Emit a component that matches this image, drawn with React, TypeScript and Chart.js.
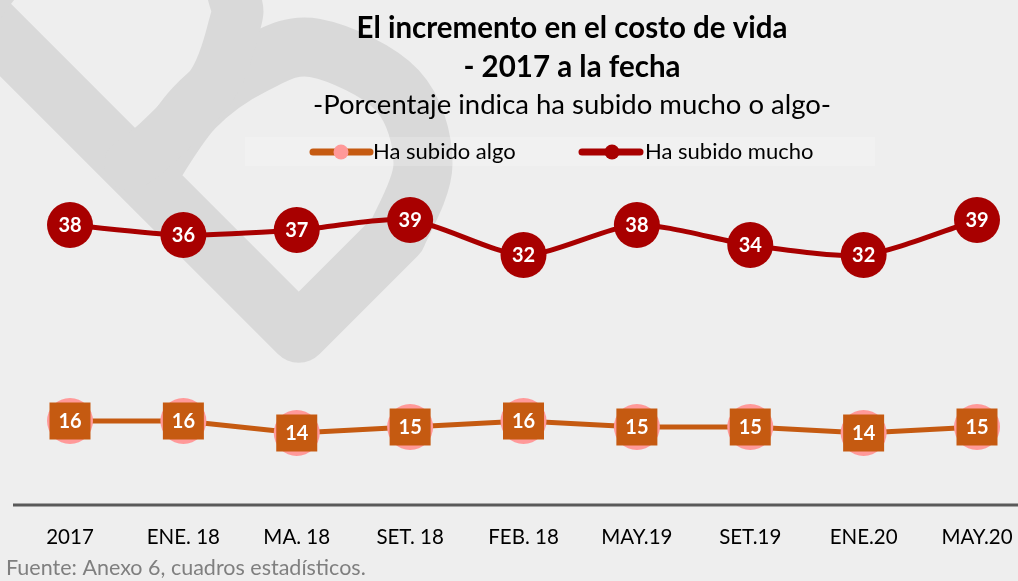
import React, { useEffect, useRef } from "react";
import { Chart, registerables } from "chart.js";

Chart.register(...registerables);

const categories = ["2017", "ENE. 18", "MA. 18", "SET. 18", "FEB. 18", "MAY.19", "SET.19", "ENE.20", "MAY.20"];
const subidoAlgo = [16, 16, 14, 15, 16, 15, 15, 14, 15];
const subidoMucho = [38, 36, 37, 39, 32, 38, 34, 32, 39];
const seriesNames = ["Ha subido algo", "Ha subido mucho"];
const titleLines = ["El incremento en el costo de vida", "- 2017 a la fecha"];
const subtitleText = "-Porcentaje indica ha subido mucho o algo-";
const sourceText = "Fuente: Anexo 6, cuadros estadísticos.";

const BG = "#EEEEEE";
const WM = "#D9D9D9";
const RED = "#A80000";
const ORANGE = "#C55A11";
const PINK = "#FF9999";
const FONT = "Lato, 'Open Sans', sans-serif";

type P = [number, number];

function spline(ctx: CanvasRenderingContext2D, pts: P[], move = true) {
  if (move) ctx.moveTo(pts[0][0], pts[0][1]);
  for (let i = 0; i < pts.length - 1; i++) {
    const p0 = pts[i - 1] || pts[i];
    const p1 = pts[i];
    const p2 = pts[i + 1];
    const p3 = pts[i + 2] || p2;
    ctx.bezierCurveTo(
      p1[0] + (p2[0] - p0[0]) / 6,
      p1[1] + (p2[1] - p0[1]) / 6,
      p2[0] - (p3[0] - p1[0]) / 6,
      p2[1] - (p3[1] - p1[1]) / 6,
      p2[0],
      p2[1]
    );
  }
}

const backgroundPlugin = {
  id: "bgWatermark",
  beforeDraw(chart: any) {
    const ctx: CanvasRenderingContext2D = chart.ctx;
    ctx.save();
    ctx.fillStyle = BG;
    ctx.fillRect(0, 0, chart.width, chart.height);
    ctx.strokeStyle = WM;
    ctx.lineJoin = "round";
    ctx.lineCap = "round";
    // left side, tip, right side and right lobe
    ctx.lineWidth = 59;
    ctx.beginPath();
    ctx.moveTo(-70, -35.5);
    ctx.lineTo(298.75, 333.25);
    ctx.lineTo(397, 235);
    spline(
      ctx,
      [[397, 235], [423, 164], [397, 90], [315, 48], [255, 64], [194, 108], [145, 179.5]],
      false
    );
    ctx.stroke();
    // left lobe (mostly above the top edge)
    ctx.lineWidth = 52;
    ctx.beginPath();
    spline(ctx, [
      [-25, 9.5], [20, -40], [120, -75], [210, -45], [235, 0], [234, 27],
      [212, 85], [156, 144], [130, 164.5],
    ]);
    ctx.stroke();
    // legend band
    ctx.fillStyle = "rgba(255,255,255,0.18)";
    ctx.fillRect(245, 137, 630, 29);
    ctx.restore();
  },
  beforeDatasetsDraw(chart: any) {
    const ctx: CanvasRenderingContext2D = chart.ctx;
    const y = chart.chartArea.bottom;
    ctx.save();
    ctx.strokeStyle = "#595959";
    ctx.lineWidth = 3;
    ctx.beginPath();
    ctx.moveTo(13, y);
    ctx.lineTo(chart.width, y);
    ctx.stroke();
    ctx.restore();
  },
  afterDatasetsDraw(chart: any) {
    const ctx: CanvasRenderingContext2D = chart.ctx;
    ctx.save();
    ctx.font = `bold 20px ${FONT}`;
    ctx.textAlign = "center";
    ctx.textBaseline = "middle";
    chart.data.datasets.forEach((ds: any, i: number) => {
      const meta = chart.getDatasetMeta(i);
      meta.data.forEach((pt: any, j: number) => {
        const { x, y } = pt;
        if (i === 0) {
          ctx.fillStyle = ORANGE;
          ctx.fillRect(x - 20.5, y - 18.5, 41, 37);
        }
        ctx.fillStyle = "#FFFFFF";
        ctx.fillText(String(ds.data[j]), x, y + 1);
      });
    });
    ctx.restore();
  },
  afterDraw(chart: any) {
    const ctx: CanvasRenderingContext2D = chart.ctx;
    ctx.save();
    // title + subtitle
    const cx = 572;
    ctx.fillStyle = "#000000";
    ctx.textAlign = "center";
    ctx.textBaseline = "middle";
    ctx.font = `bold 29.5px ${FONT}`;
    ctx.fillText(titleLines[0], cx, 28);
    ctx.fillText(titleLines[1], cx, 67);
    ctx.font = `27.5px ${FONT}`;
    ctx.fillText(subtitleText, cx, 105);
    // legend
    const ly = 152;
    const items = [
      { x0: 313, x1: 370, dot: 341, color: ORANGE, dotColor: PINK, tx: 373, label: seriesNames[0] },
      { x0: 582, x1: 640, dot: 612, color: RED, dotColor: RED, tx: 645, label: seriesNames[1] },
    ];
    items.forEach((it) => {
      ctx.strokeStyle = it.color;
      ctx.lineWidth = 7;
      ctx.lineCap = "round";
      ctx.beginPath();
      ctx.moveTo(it.x0, ly);
      ctx.lineTo(it.x1, ly);
      ctx.stroke();
      ctx.fillStyle = it.dotColor;
      ctx.beginPath();
      ctx.arc(it.dot, ly, 7.5, 0, Math.PI * 2);
      ctx.fill();
      ctx.fillStyle = "#000000";
      ctx.font = `22px ${FONT}`;
      ctx.textAlign = "left";
      ctx.textBaseline = "middle";
      ctx.fillText(it.label, it.tx, ly);
    });
    // source
    ctx.fillStyle = "#7F7F7F";
    ctx.font = `21.5px ${FONT}`;
    ctx.textAlign = "left";
    ctx.textBaseline = "middle";
    ctx.fillText(sourceText, 6, 568);
    ctx.restore();
  },
};

export default function App() {
  const ref = useRef<HTMLCanvasElement | null>(null);
  useEffect(() => {
    if (!ref.current) return;
    const chart = new Chart(ref.current, {
      type: "line",
      data: {
        labels: categories,
        datasets: [
          {
            label: seriesNames[0],
            data: subidoAlgo,
            yAxisID: "y",
            borderColor: ORANGE,
            borderWidth: 5,
            pointRadius: 23,
            pointHoverRadius: 23,
            pointBackgroundColor: PINK,
            pointBorderWidth: 0,
            tension: 0,
            clip: false as any,
          },
          {
            label: seriesNames[1],
            data: subidoMucho,
            yAxisID: "y2",
            borderColor: RED,
            borderWidth: 5,
            pointRadius: 23,
            pointHoverRadius: 23,
            pointBackgroundColor: RED,
            pointBorderColor: RED,
            pointBorderWidth: 0,
            tension: 0.25,
            clip: false as any,
          },
        ],
      },
      options: {
        responsive: false,
        animation: false,
        devicePixelRatio: 1,
        layout: { padding: { left: 70, right: 41, top: 145, bottom: 33 } },
        scales: {
          x: {
            type: "category",
            offset: false,
            grid: { display: false, drawTicks: false },
            border: { display: false },
            ticks: {
              color: "#000000",
              font: { family: FONT, size: 20.5 },
              padding: 20,
              maxRotation: 0,
              autoSkip: false,
            },
            afterFit: (s: any) => {
              s.paddingLeft = 0;
              s.paddingRight = 0;
              s.height = 43;
            },
          },
          y: { display: false, min: 2, max: 62 },
          y2: { display: false, min: -18, max: 54 },
        },
        plugins: {
          legend: { display: false },
          tooltip: { enabled: false },
          title: { display: false },
          subtitle: { display: false },
        },
      },
      plugins: [backgroundPlugin],
    });
    return () => chart.destroy();
  }, []);
  return (
    <div style={{ position: "fixed", left: 0, top: 0, width: 1018, height: 581 }}>
      <canvas ref={ref} width={1018} height={581} style={{ display: "block" }} />
    </div>
  );
}
